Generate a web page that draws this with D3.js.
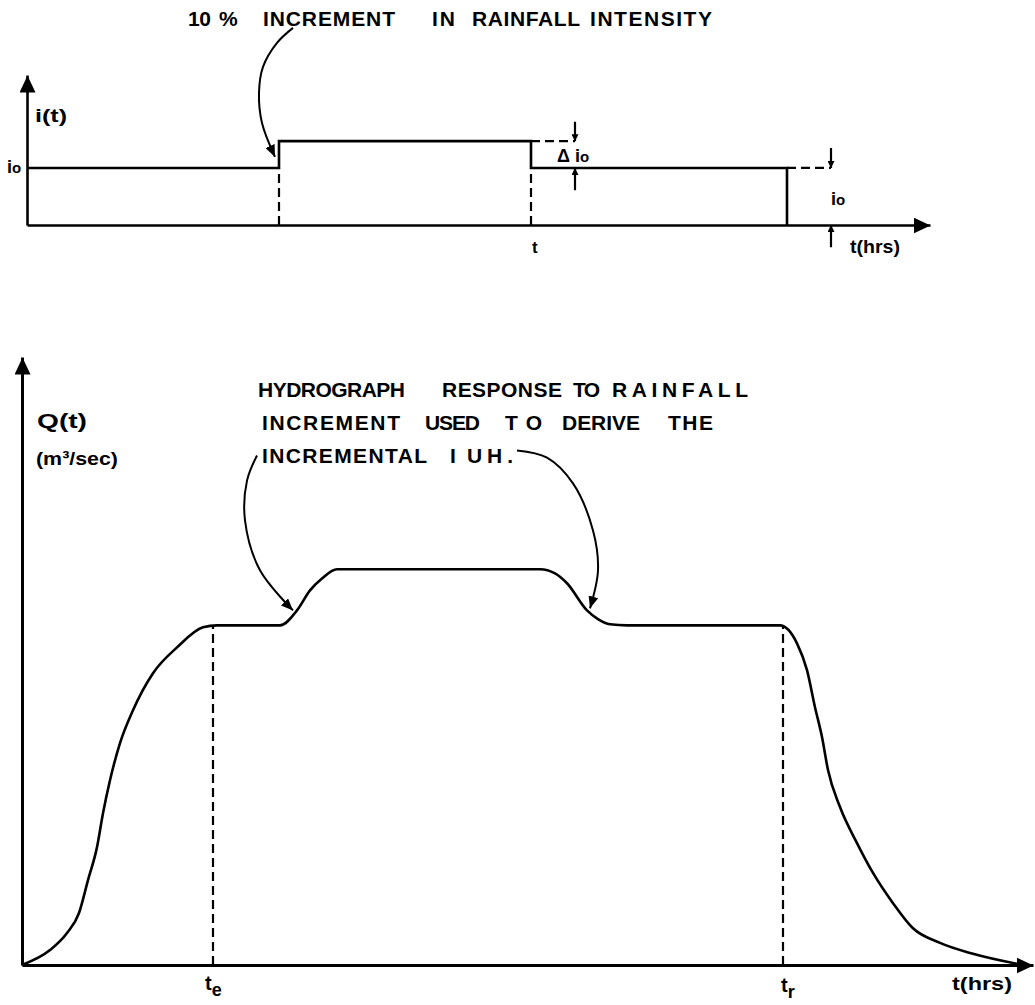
<!DOCTYPE html>
<html><head><meta charset="utf-8">
<script src="https://cdn.jsdelivr.net/npm/d3@7"></script>
<style>
html,body{margin:0;padding:0;background:#fff;}
svg{display:block;}
text{font-family:"Liberation Sans",Arial,sans-serif;font-weight:bold;fill:#000;}
</style></head>
<body>
<svg id="chart" width="1035" height="1005"></svg>
<script>
// ---------- DATA ----------
// Rainfall intensity steps (time units, intensity relative to i0)
const rainT = [0, 25.2, 50.4, 76];
const rainI = [1, 1.47, 1, 0];
// Hydrograph response Q(t) (time units, discharge relative to plateau)
const flowT = [0, 2.8, 4.5, 5.7, 6.6, 7.5, 8.1, 8.8, 9.8, 11.1, 13.1, 15.5, 18.1, 19.5, 25.8, 27.5, 28.8, 30, 31.5, 51.8, 53.3, 54.5, 56.5, 57.6, 58.8, 60.5, 75.8, 77.5, 78.5, 79.3, 80, 80.6, 81.8, 83.5, 85.1, 87.1, 89.1, 91.8, 95.1, 100.1];
const flowQ = [0, 4.4, 9.4, 15.3, 25, 34.7, 44.7, 54.4, 65.3, 75, 85.9, 93.5, 99.4, 100, 100, 104.4, 110.3, 113.8, 116.5, 116.5, 115.3, 112.4, 104.4, 101.8, 100.3, 100, 100, 94.7, 86.8, 75.9, 67.1, 57.4, 46.5, 35.9, 27.1, 18.2, 10.8, 6.5, 3.3, 0];
// Marked times
const tE = 19.1, tR = 76.1;
// Text
const topTitleWords = ["10", "%", "INCREMENT", "IN", "RAINFALL", "INTENSITY"];
const noteLine1 = ["HYDROGRAPH", "RESPONSE", "TO", "RAINFALL"];
const noteLine2 = ["INCREMENT", "USED", "TO", "DERIVE", "THE"];
const noteLine3 = ["INCREMENTAL", "I", "U", "H."];

// ---------- SCALES ----------
const xTop = d3.scaleLinear().domain([0, 90.3]).range([27, 930]);
const yTop = d3.scaleLinear().domain([0, 2.63]).range([225, 75]);
const xBot = d3.scaleLinear().domain([0, 101.1]).range([22, 1033]);
const yBot = d3.scaleLinear().domain([0, 179]).range([965, 357]);

const svg = d3.select("#chart");
svg.append("rect").attr("width",1035).attr("height",1005).attr("fill","#fff");

const defs = svg.append("defs");
function marker(id, len, half){
  defs.append("marker").attr("id", id)
    .attr("markerUnits","userSpaceOnUse")
    .attr("viewBox", `0 ${-half} ${len} ${2*half}`)
    .attr("refX", len).attr("refY", 0)
    .attr("markerWidth", len).attr("markerHeight", 2*half)
    .attr("orient","auto")
    .append("path").attr("d", `M0,${-half}L${len},0L0,${half}Z`).attr("fill","#000");
}
marker("bigArrow", 17, 8);
marker("midArrow", 12, 5);
marker("smallArrow", 7, 3.5);

const SW = 2.6;

// ---------- TOP CHART ----------
const gTop = svg.append("g");
const axT = gTop.append("g").attr("transform",`translate(0,${yTop(0)})`)
  .call(d3.axisBottom(xTop).tickValues([]).tickSizeOuter(0));
const axL = gTop.append("g").attr("transform",`translate(${xTop(0)},0)`)
  .call(d3.axisLeft(yTop).tickValues([]).tickSizeOuter(0));
[axT, axL].forEach(a => a.select(".domain").attr("stroke","#000").attr("stroke-width",SW).attr("marker-end","url(#bigArrow)"));

const rain = rainT.map((t,i)=>({t, v:rainI[i]}));
gTop.append("path").datum(rain)
  .attr("d", d3.line().x(d=>xTop(d.t)).y(d=>yTop(d.v)).curve(d3.curveStepAfter))
  .attr("fill","none").attr("stroke","#000").attr("stroke-width",SW);

function seg(g, x1,y1,x2,y2, opts={}){
  const p = g.append("line").attr("x1",x1).attr("y1",y1).attr("x2",x2).attr("y2",y2)
    .attr("stroke","#000").attr("stroke-width", opts.w || 2.2);
  if (opts.dash) p.attr("stroke-dasharray", opts.dash);
  if (opts.marker) p.attr("marker-end", `url(#${opts.marker})`);
  return p;
}
// dashed verticals
seg(gTop, xTop(rainT[1]), yTop(0), xTop(rainT[1]), yTop(rainI[0]), {dash:"9,5"});
seg(gTop, xTop(rainT[2]), yTop(0), xTop(rainT[2]), yTop(rainI[2]), {dash:"9,5"});
// dashed extension lines
seg(gTop, xTop(rainT[2]), yTop(rainI[1]), xTop(54.8), yTop(rainI[1]), {dash:"9,5"});
seg(gTop, xTop(rainT[3]), yTop(rainI[2]), xTop(80.4), yTop(rainI[2]), {dash:"9,5"});
// dimension arrows
seg(gTop, xTop(54.8), yTop(1.81), xTop(54.8), yTop(rainI[1]), {marker:"smallArrow", w:2.2});
seg(gTop, xTop(54.8), yTop(0.61), xTop(54.8), yTop(rainI[2]), {marker:"smallArrow", w:2.2});
seg(gTop, xTop(80.4), yTop(1.35), xTop(80.4), yTop(rainI[2]), {marker:"smallArrow", w:2.2});
seg(gTop, xTop(80.4), yTop(-0.39), xTop(80.4), yTop(0), {marker:"smallArrow", w:2.2});

// labels
function words(g, list, xs, lens, y, size){
  list.forEach((w,i)=>{
    g.append("text").attr("x",xs[i]).attr("y",y).attr("font-size",size)
      .attr("textLength",lens[i]).attr("lengthAdjust","spacing").text(w);
  });
}
words(gTop, topTitleWords, [188,219,263,432,472,590], [23,15,132,23,108,122], 26, 21);

gTop.append("text").attr("x",35).attr("y",122).attr("font-size",19).attr("textLength",32).attr("lengthAdjust","spacingAndGlyphs").text("i(t)");
const io1 = gTop.append("text").attr("x",7).attr("y",yTop(1)+5).attr("font-size",18);
io1.append("tspan").text("i"); io1.append("tspan").attr("font-size",15).text("o");
const dio = gTop.append("text").attr("x",557).attr("y",162).attr("font-size",18);
dio.append("tspan").text("\u0394 i"); dio.append("tspan").attr("font-size",15).text("o");
const io2 = gTop.append("text").attr("x",831).attr("y",205).attr("font-size",18);
io2.append("tspan").text("i"); io2.append("tspan").attr("font-size",15).text("o");
gTop.append("text").attr("x",xTop(rainT[2])+1).attr("y",253).attr("font-size",17).text("t");
gTop.append("text").attr("x",850).attr("y",253).attr("font-size",18).attr("textLength",50).attr("lengthAdjust","spacingAndGlyphs").text("t(hrs)");

// top annotation arrow (data units)
const topArrowT = [26.6, 25.0, 23.6, 23.2, 23.5, 24.8];
const topArrowI = [3.456, 3.193, 2.772, 2.316, 1.789, 1.193];
gTop.append("path").datum(topArrowT.map((t,i)=>[xTop(t), yTop(topArrowI[i])]))
  .attr("d", d3.line().curve(d3.curveCatmullRom))
  .attr("fill","none").attr("stroke","#000").attr("stroke-width",2).attr("marker-end","url(#midArrow)");

// ---------- BOTTOM CHART ----------
const gBot = svg.append("g");
const axB = gBot.append("g").attr("transform",`translate(0,${yBot(0)})`)
  .call(d3.axisBottom(xBot).tickValues([]).tickSizeOuter(0));
const axBL = gBot.append("g").attr("transform",`translate(${xBot(0)},0)`)
  .call(d3.axisLeft(yBot).tickValues([]).tickSizeOuter(0));
[axB, axBL].forEach(a => a.select(".domain").attr("stroke","#000").attr("stroke-width",SW+0.4).attr("marker-end","url(#bigArrow)"));

const flow = flowT.map((t,i)=>({t, q:flowQ[i]}));
gBot.append("path").datum(flow)
  .attr("d", d3.line().x(d=>xBot(d.t)).y(d=>yBot(d.q)).curve(d3.curveMonotoneX))
  .attr("fill","none").attr("stroke","#000").attr("stroke-width",SW);

seg(gBot, xBot(tE), yBot(0), xBot(tE), yBot(100), {dash:"9,5"});
seg(gBot, xBot(tR), yBot(0), xBot(tR), yBot(100), {dash:"9,5"});

const te = gBot.append("text").attr("x",xBot(tE)-8).attr("y",990).attr("font-size",20);
te.append("tspan").text("t"); te.append("tspan").attr("font-size",18).attr("dy",6).text("e");
const tr = gBot.append("text").attr("x",xBot(tR)-2).attr("y",992).attr("font-size",20);
tr.append("tspan").text("t"); tr.append("tspan").attr("font-size",18).attr("dy",6).text("r");
gBot.append("text").attr("x",952).attr("y",990).attr("font-size",19).attr("textLength",60).attr("lengthAdjust","spacingAndGlyphs").text("t(hrs)");

gBot.append("text").attr("x",37).attr("y",428).attr("font-size",20).attr("textLength",50).attr("lengthAdjust","spacingAndGlyphs").text("Q(t)");
gBot.append("text").attr("x",36).attr("y",465).attr("font-size",19).attr("textLength",82).attr("lengthAdjust","spacingAndGlyphs").text("(m\u00B3/sec)");

words(gBot, noteLine1, [258,442,573,612], [147,120,27,136], 397, 21);
words(gBot, noteLine2, [262,425,505,562,668], [138,55,37,78,45], 430, 21);
words(gBot, noteLine3, [262,450,467,487], [165,8,15,26], 463, 21);

const leftArrT = [23.5, 22.5, 22.3, 23.8, 27.1];
const leftArrQ = [150, 142.6, 130.9, 116.2, 104.4];
const rightArrT = [49.5, 52.5, 55.1, 57.1, 57.6, 56.8];
const rightArrQ = [151.5, 149.4, 141.8, 127.9, 116.2, 105];
[[leftArrT,leftArrQ],[rightArrT,rightArrQ]].forEach(([ts,qs])=>{
  gBot.append("path").datum(ts.map((t,i)=>[xBot(t), yBot(qs[i])]))
    .attr("d", d3.line().curve(d3.curveCatmullRom))
    .attr("fill","none").attr("stroke","#000").attr("stroke-width",2).attr("marker-end","url(#midArrow)");
});
</script>
</body></html>
